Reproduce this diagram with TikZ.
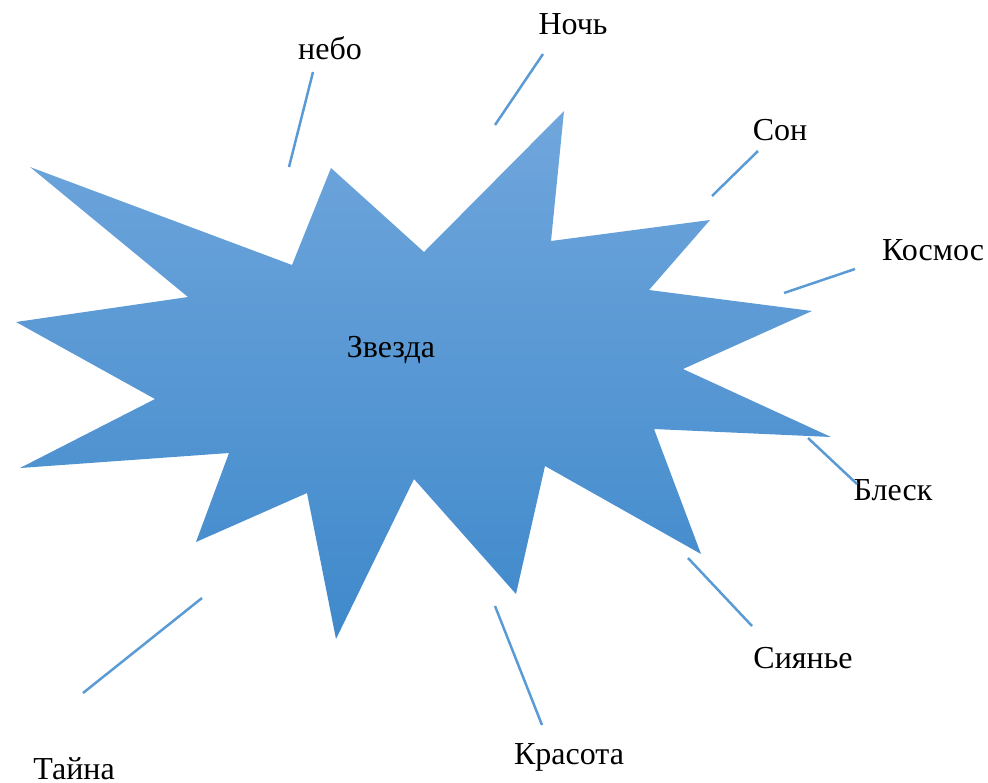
\documentclass[tikz,border=0pt]{standalone}
\usepackage{fontspec}
\setmainfont{Liberation Serif}
\definecolor{startop}{HTML}{70A6DC}
\definecolor{starbot}{HTML}{3F89CB}
\definecolor{linkblue}{HTML}{5B9BD5}
\tikzset{
  lbl/.style={anchor=base, font=\fontsize{32}{38}\selectfont, inner sep=0pt},
  link/.style={draw=linkblue, line width=2.5pt},
}
\begin{document}
\begin{tikzpicture}[x=1pt,y=-1pt]
\useasboundingbox (0,0) rectangle (988,782);
\shade[top color=startop, bottom color=starbot]
  (30,167) -- (292,265) -- (331,168) -- (424,252) -- (564,111) -- (551,241)
  -- (710,220) -- (649,290) -- (812,311) -- (683,369) -- (831,437) -- (654,429)
  -- (701,554) -- (545,466) -- (516,594) -- (414,479) -- (336,639) -- (307,493)
  -- (196,542) -- (229,453) -- (20,468) -- (155,399) -- (16,322) -- (188,297) -- cycle;
\node[lbl] (zv) at (391,357) {Звезда};
\node[lbl] (nebo) at (330,59) {небо};
\node[lbl] (noch) at (573,34) {Ночь};
\node[lbl] (son) at (780,140) {Сон};
\node[lbl] (kosm) at (933,260) {Космос};
\node[lbl] (blesk) at (893,500) {Блеск};
\node[lbl] (siyan) at (803,668) {Сиянье};
\node[lbl] (kras) at (569,764) {Красота};
\node[lbl] (tayna) at (74,779) {Тайна};
\coordinate (a1) at (313,72);  \coordinate (a2) at (289,167);
\coordinate (b1) at (543,54);  \coordinate (b2) at (495,125);
\coordinate (c1) at (758,151); \coordinate (c2) at (712,196);
\coordinate (d1) at (855,269); \coordinate (d2) at (784,293);
\coordinate (e1) at (808,438); \coordinate (e2) at (857,484);
\coordinate (f1) at (688,558); \coordinate (f2) at (752,626);
\coordinate (g1) at (495,606); \coordinate (g2) at (542,725);
\coordinate (h1) at (202,598); \coordinate (h2) at (83,693);
\draw[link] (a1) -- (a2);
\draw[link] (b1) -- (b2);
\draw[link] (c1) -- (c2);
\draw[link] (d1) -- (d2);
\draw[link] (e1) -- (e2);
\draw[link] (f1) -- (f2);
\draw[link] (g1) -- (g2);
\draw[link] (h1) -- (h2);
\end{tikzpicture}
\end{document}
